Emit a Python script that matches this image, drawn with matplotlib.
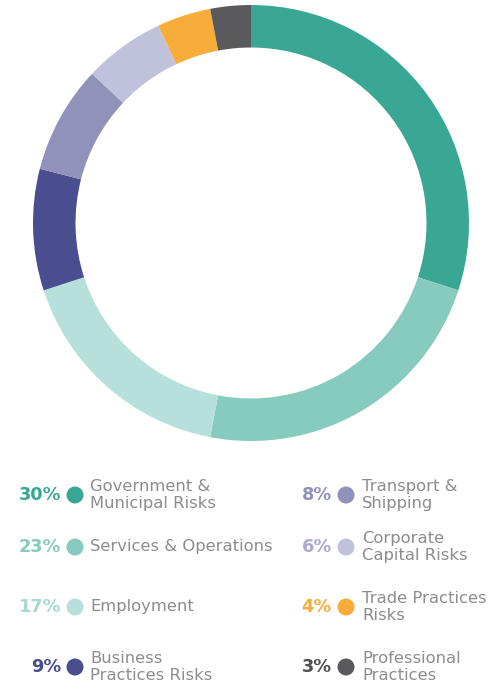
import matplotlib
matplotlib.use("Agg")
import matplotlib.pyplot as plt
from matplotlib.patches import Circle

# risk categories, clockwise from 12 o'clock
labels = ["Government &\nMunicipal Risks", "Services & Operations", "Employment",
          "Business\nPractices Risks", "Transport &\nShipping", "Corporate\nCapital Risks",
          "Trade Practices\nRisks", "Professional\nPractices"]
shares = [30, 23, 17, 9, 8, 6, 4, 3]
colors = ["#3aa794", "#86cbbd", "#b7e0da", "#4a4d8e", "#9192b9", "#c0c1da", "#f8ad3a", "#5a5a5c"]
pct_colors = ["#3aa794", "#86cbbd", "#a6d9d0", "#4a4d8e", "#8f90bd", "#a9aacd", "#f8ad3a", "#4f4f51"]

W, H = 498, 687
fig = plt.figure(figsize=(W / 100, H / 100), dpi=100)
fig.patch.set_facecolor("white")

# donut
cx, cy, r = 251, 223, 218
ax = fig.add_axes([(cx - r) / W, (H - cy - r) / H, 2 * r / W, 2 * r / H])
ax.pie(shares, colors=colors, startangle=90, counterclock=False,
       wedgeprops=dict(width=0.195, linewidth=0))
ax.set_aspect("equal")
ax.set_xlim(-1, 1)
ax.set_ylim(-1, 1)
ax.axis("off")

# legend in two columns of four rows
lg = fig.add_axes([0, 0, 1, 1])
lg.set_xlim(0, W)
lg.set_ylim(H, 0)
lg.axis("off")

row_y = [495, 547, 607, 667]
cols = [(61, 75, 90), (332, 346, 362)]
for i, (lab, val) in enumerate(zip(labels, shares)):
    px, dx, tx = cols[i // 4]
    y = row_y[i % 4]
    lg.text(px, y, f"{val}%", ha="right", va="center", fontsize=12.8,
            fontweight="bold", color=pct_colors[i])
    lg.add_patch(Circle((dx, y), 8.5, color=colors[i], lw=0))
    lg.text(tx, y, lab, ha="left", va="center", fontsize=11.8,
            color="#8c8c8c", linespacing=1.2)

fig.savefig("out.png", dpi=100, facecolor="white")
